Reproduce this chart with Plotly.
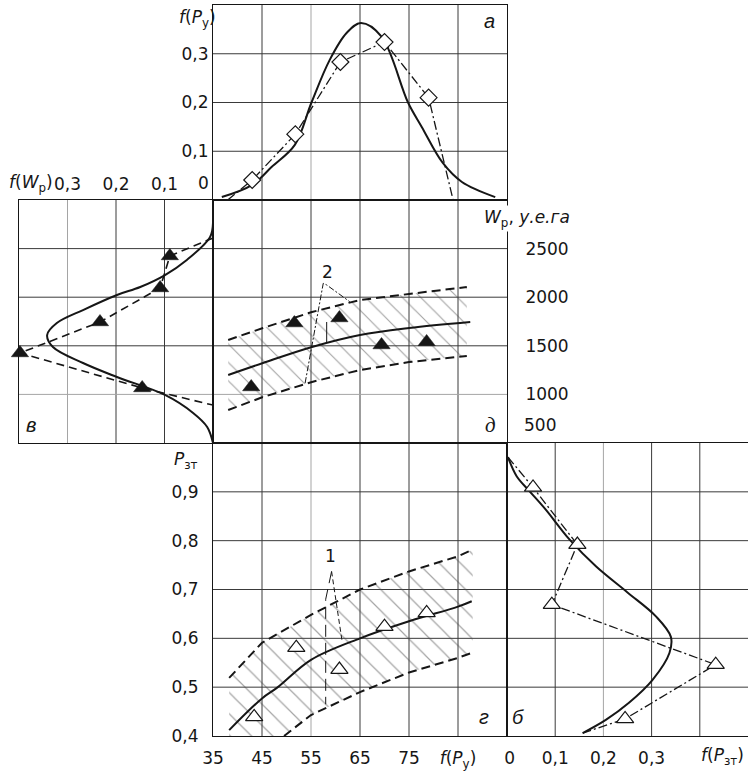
import plotly.graph_objects as go

# ---------------- data ----------------
# panel a: f(P_y) vs P_y
A_CURVE_P = [36.8, 43.0, 47.0, 51.7, 55.1, 58.8, 62.3, 65.2, 69.4, 74.8, 77.6, 81.9, 85.8, 92.6]
A_CURVE_F = [0.006, 0.031, 0.068, 0.113, 0.200, 0.287, 0.343, 0.363, 0.335, 0.200, 0.150, 0.076, 0.037, 0.006]
A_PTS_P = [43.0, 51.8, 61.0, 70.0, 79.0]
A_PTS_F = [0.041, 0.135, 0.283, 0.324, 0.210]
A_LINE_START = (38.0, 0.0)
A_LINE_END = (84.0, 0.0)

# panel в: f(W_p) (horizontal, reversed) vs W_p
B_CURVE_F = [0.0, 0.006, 0.054, 0.099, 0.150, 0.198, 0.268, 0.322, 0.342, 0.330, 0.268, 0.198, 0.099, 0.041, 0.012, 0.0]
B_CURVE_W = [2763, 2620, 2383, 2228, 2105, 2023, 1868, 1734, 1611, 1488, 1323, 1179, 994, 809, 665, 500]
B_PTS_F = [0.089, 0.109, 0.233, 0.398, 0.146]
B_PTS_W = [2424, 2095, 1745, 1426, 1066]
B_LINE_START = (0.0, 2609)
B_LINE_END = (0.0, 890)

# panel д: W_p vs P_y
D_PTS_P = [42.8, 51.6, 60.8, 69.4, 78.6]
D_PTS_W = [1076, 1734, 1786, 1508, 1540]
D_MID_P = [38.1, 45.2, 55.2, 65.0, 75.0, 87.5]
D_MID_W = [1200, 1323, 1488, 1611, 1683, 1745]
D_UP_P = [38.1, 45.2, 55.2, 65.0, 75.0, 86.8]
D_UP_W = [1560, 1683, 1848, 1971, 2033, 2105]
D_LO_P = [38.1, 45.2, 55.2, 65.0, 75.0, 86.8]
D_LO_W = [840, 973, 1128, 1251, 1333, 1395]

# panel г: P_зт vs P_y
G_PTS_P = [43.4, 52.0, 60.8, 70.0, 78.6]
G_PTS_Y = [0.439, 0.581, 0.536, 0.624, 0.652]
G_MID_P = [38.3, 45.0, 48.1, 55.0, 65.0, 75.0, 85.0, 87.8]
G_MID_Y = [0.412, 0.477, 0.499, 0.556, 0.600, 0.635, 0.665, 0.676]
G_UP_P = [38.3, 45.0, 55.0, 65.0, 75.0, 85.0, 88.0]
G_UP_Y = [0.519, 0.591, 0.648, 0.700, 0.737, 0.768, 0.782]
G_LO_P = [49.5, 55.0, 65.0, 75.0, 85.0, 88.0]
G_LO_Y = [0.400, 0.443, 0.490, 0.530, 0.560, 0.571]

# panel б: f(P_зт) vs P_зт
E_CURVE_F = [0.002, 0.020, 0.047, 0.080, 0.130, 0.185, 0.250, 0.309, 0.340, 0.337, 0.302, 0.253, 0.205, 0.157]
E_CURVE_Y = [0.971, 0.932, 0.901, 0.864, 0.802, 0.747, 0.694, 0.645, 0.603, 0.570, 0.515, 0.468, 0.433, 0.406]
E_PTS_F = [0.054, 0.146, 0.093, 0.433, 0.245]
E_PTS_Y = [0.909, 0.792, 0.669, 0.546, 0.435]
E_LINE_START = (0.002, 0.971)
E_LINE_END = (0.157, 0.406)

# ticks / grid positions
PY_TICKS = [35, 45, 55, 65, 75, 85]
PY_LABELS = ["35", "45", "55", "65", "75", "<i>f</i>(<i>P</i><sub>у</sub>)"]
FA_TICKS = [0.1, 0.2, 0.3]
FA_LABELS = ["0,1", "0,2", "0,3"]
FW_TICKS = [0.3, 0.2, 0.1]
FW_LABELS = ["0,3", "0,2", "0,1"]
W_TICKS = [1000, 1500, 2000, 2500]
W_LABELS = ["1000", "1500", "2000", "2500"]
PZ_TICKS = [0.4, 0.5, 0.6, 0.7, 0.8, 0.9]
PZ_LABELS = ["0,4", "0,5", "0,6", "0,7", "0,8", "0,9"]
FZ_TICKS = [0.0, 0.1, 0.2, 0.3, 0.4]
FZ_LABELS = ["\u00a00", "0,1", "0,2", "0,3", ""]

# ---------------- layout helpers ----------------
WF, HF = 748, 771
def dx(a, b):
    return [a / WF, b / WF]
def dy(top, bottom):
    return [1 - bottom / HF, 1 - top / HF]

FONT = "DejaVu Sans"
LETTER = "Liberation Sans"
INK = "#161616"
GRID = "#3a3a3a"
LIGHT = "#a5a5a5"
TFONT = dict(family=FONT, size=17, color=INK)

def axis(domain, rng, ticks, labels=None, show=False, **kw):
    d = dict(domain=domain, range=rng, tickvals=ticks, showgrid=False,
             zeroline=False, showline=True, linecolor=INK, linewidth=1,
             mirror=True, ticks="", showticklabels=show, tickfont=TFONT,
             automargin=False, fixedrange=True)
    if labels is not None:
        d["ticktext"] = labels
    d.update(kw)
    return d

COL_MAIN = dx(213, 507)
COL_LEFT = dx(19, 213)
COL_RIGHT = dx(507, 748)
ROW_TOP = dy(5, 200)
ROW_MID = dy(200, 443)
ROW_BOT = dy(443, 736)

fig = go.Figure()

solid = dict(color=INK, width=2, shape="spline", smoothing=1.0)
dashdot = dict(color=INK, width=1.3, dash="9px,3px,2px,3px")
dashed = dict(color=INK, width=1.6, dash="8px,5px")
band = dict(color=INK, width=2, dash="9px,5px")

# panel a
fig.add_trace(go.Scatter(x=A_CURVE_P, y=A_CURVE_F, mode="lines", line=solid, xaxis="x", yaxis="y"))
fig.add_trace(go.Scatter(x=[A_LINE_START[0]] + A_PTS_P + [A_LINE_END[0]],
                         y=[A_LINE_START[1]] + A_PTS_F + [A_LINE_END[1]],
                         mode="lines", line=dashdot, xaxis="x", yaxis="y"))
fig.add_trace(go.Scatter(x=A_PTS_P, y=A_PTS_F, mode="markers", cliponaxis=False,
                         marker=dict(symbol="diamond", size=13, color="white", line=dict(color=INK, width=1.2)),
                         xaxis="x", yaxis="y"))

# panel в
fig.add_trace(go.Scatter(x=B_CURVE_F, y=B_CURVE_W, mode="lines", line=solid, xaxis="x2", yaxis="y2"))
fig.add_trace(go.Scatter(x=[B_LINE_START[0]] + B_PTS_F + [B_LINE_END[0]],
                         y=[B_LINE_START[1]] + B_PTS_W + [B_LINE_END[1]],
                         mode="lines", line=dashed, xaxis="x2", yaxis="y2"))
fig.add_trace(go.Scatter(x=B_PTS_F, y=B_PTS_W, mode="markers", cliponaxis=False,
                         marker=dict(symbol="triangle-up", size=15, color=INK, line=dict(color=INK, width=0.5)),
                         xaxis="x2", yaxis="y2"))

# panel д
fig.add_trace(go.Scatter(x=D_UP_P + D_LO_P[::-1], y=D_UP_W + D_LO_W[::-1], mode="lines", fill="toself",
                         line=dict(width=0, color="rgba(0,0,0,0)"), fillcolor="rgba(0,0,0,0)",
                         fillpattern=dict(shape="\\", size=13, solidity=0.09, fgcolor="#4a4a4a",
                                          bgcolor="rgba(0,0,0,0)", fillmode="overlay"),
                         xaxis="x3", yaxis="y3"))
fig.add_trace(go.Scatter(x=D_UP_P, y=D_UP_W, mode="lines", line=band, xaxis="x3", yaxis="y3"))
fig.add_trace(go.Scatter(x=D_LO_P, y=D_LO_W, mode="lines", line=band, xaxis="x3", yaxis="y3"))
fig.add_trace(go.Scatter(x=D_MID_P, y=D_MID_W, mode="lines", line=solid, xaxis="x3", yaxis="y3"))
fig.add_trace(go.Scatter(x=D_PTS_P, y=D_PTS_W, mode="markers",
                         marker=dict(symbol="triangle-up", size=15, color=INK, line=dict(color=INK, width=0.5)),
                         xaxis="x3", yaxis="y3"))
# leader lines for "2"
fig.add_trace(go.Scatter(x=[53.8, 57.5, 58.2, 62.9], y=[1117, 2143, 2126, 1954], mode="lines",
                         line=dict(color=INK, width=1, dash="6px,2px,2px,2px"), xaxis="x3", yaxis="y3"))
fig.add_trace(go.Scatter(x=[58.2, 58.2], y=[1530, 1745], mode="lines",
                         line=dict(color=INK, width=1), xaxis="x3", yaxis="y3"))

# panel г
fig.add_trace(go.Scatter(x=G_UP_P + G_LO_P[::-1] + [G_UP_P[0]], y=G_UP_Y + G_LO_Y[::-1] + [G_LO_Y[0]],
                         mode="lines", fill="toself",
                         line=dict(width=0, color="rgba(0,0,0,0)"), fillcolor="rgba(0,0,0,0)",
                         fillpattern=dict(shape="\\", size=15, solidity=0.08, fgcolor="#4a4a4a",
                                          bgcolor="rgba(0,0,0,0)", fillmode="overlay"),
                         xaxis="x4", yaxis="y4"))
fig.add_trace(go.Scatter(x=G_UP_P, y=G_UP_Y, mode="lines", line=band, xaxis="x4", yaxis="y4"))
fig.add_trace(go.Scatter(x=G_LO_P, y=G_LO_Y, mode="lines", line=band, xaxis="x4", yaxis="y4"))
fig.add_trace(go.Scatter(x=G_MID_P, y=G_MID_Y, mode="lines", line=solid, xaxis="x4", yaxis="y4"))
fig.add_trace(go.Scatter(x=G_PTS_P, y=G_PTS_Y, mode="markers",
                         marker=dict(symbol="triangle-up", size=15, color="white", line=dict(color=INK, width=1.2)),
                         xaxis="x4", yaxis="y4"))
# leader lines for "1"
fig.add_trace(go.Scatter(x=[59.2, 61.3], y=[0.737, 0.597], mode="lines",
                         line=dict(color=INK, width=1, dash="5px,3px"), xaxis="x4", yaxis="y4"))
fig.add_trace(go.Scatter(x=[59.2, 58.0, 58.0], y=[0.737, 0.68, 0.465], mode="lines",
                         line=dict(color=INK, width=1, dash="12px,6px"), xaxis="x4", yaxis="y4"))

# panel б
fig.add_trace(go.Scatter(x=E_CURVE_F, y=E_CURVE_Y, mode="lines", line=solid, xaxis="x5", yaxis="y5"))
fig.add_trace(go.Scatter(x=[E_LINE_START[0]] + E_PTS_F + [E_LINE_END[0]],
                         y=[E_LINE_START[1]] + E_PTS_Y + [E_LINE_END[1]],
                         mode="lines", line=dashdot, xaxis="x5", yaxis="y5"))
fig.add_trace(go.Scatter(x=E_PTS_F, y=E_PTS_Y, mode="markers", cliponaxis=False,
                         marker=dict(symbol="triangle-up", size=15, color="white", line=dict(color=INK, width=1.2)),
                         xaxis="x5", yaxis="y5"))

# ---------------- grid lines (drawn below traces, on the axes' scales) ----------------
shapes = []
def vgrid(xa, ya, vals, light=()):
    for v in vals:
        shapes.append(dict(type="line", xref=xa, yref=ya + " domain", x0=v, x1=v, y0=0, y1=1,
                           line=dict(color=LIGHT if v in light else GRID, width=1), layer="below"))
def hgrid(xa, ya, vals, light=()):
    for v in vals:
        shapes.append(dict(type="line", xref=xa + " domain", yref=ya, x0=0, x1=1, y0=v, y1=v,
                           line=dict(color=LIGHT if v in light else GRID, width=1), layer="below"))

vgrid("x", "y", PY_TICKS[1:], light=(55,))
hgrid("x", "y", FA_TICKS)
vgrid("x2", "y2", FW_TICKS, light=(0.3,))
hgrid("x2", "y2", W_TICKS, light=(1000,))
vgrid("x3", "y3", PY_TICKS[1:])
hgrid("x3", "y3", W_TICKS, light=(1000,))
vgrid("x4", "y4", PY_TICKS[1:], light=(55,))
hgrid("x4", "y4", PZ_TICKS[1:])
vgrid("x5", "y5", FZ_TICKS[1:], light=(0.2,))
hgrid("x5", "y5", PZ_TICKS[1:])

def ann(xp, yp, text, size=17, anchor="center", italic=False, family=FONT, **kw):
    t = f"<i>{text}</i>" if italic else text
    d = dict(x=xp / WF, y=1 - yp / HF, xref="paper", yref="paper", text=t, showarrow=False,
             xanchor=anchor, yanchor="middle", font=dict(family=family, size=size, color=INK))
    d.update(kw)
    return d

annotations = [
    ann(197, 18, "<i>f</i>(<i>P</i><sub>у</sub>)"),
    ann(31, 183, "<i>f</i>(<i>W</i><sub>р</sub>)"),
    dict(x=0, y=1 - 183 / HF, xref="x2", yref="paper", text="0", showarrow=False, xshift=-10,
         xanchor="center", yanchor="middle", font=dict(family=FONT, size=17, color=INK)),
    ann(482, 218, "<i>W</i><sub>р</sub>, <i>у.е.га</i>", anchor="left", bgcolor="white"),
    dict(x=1.0, y=500, xref="x3 domain", yref="y3", text="500", showarrow=False, xanchor="left",
         yanchor="middle", xshift=15, yshift=18, font=dict(family=FONT, size=17, color=INK)),
    ann(186, 460, "<i>P</i><sub>зт</sub>"),
    ann(699, 756, "<i>f</i>(<i>P</i><sub>зт</sub>)", anchor="left"),
    ann(490, 21, "а", size=20, italic=True, family=LETTER),
    ann(31, 425, "в", size=20, italic=True, family=LETTER),
    ann(491, 425, "д", size=21, italic=True, family="Liberation Serif"),
    ann(484, 717, "г", size=20, italic=True, family=LETTER),
    ann(518, 717, "б", size=20, italic=True, family=LETTER),
    dict(x=58.3, y=2259, xref="x3", yref="y3", text="2", showarrow=False, yanchor="middle",
         font=dict(family=FONT, size=17, color=INK)),
    dict(x=58.9, y=0.768, xref="x4", yref="y4", text="1", showarrow=False, yanchor="middle",
         font=dict(family=FONT, size=17, color=INK)),
]

fig.update_layout(
    width=WF, height=HF, margin=dict(l=0, r=0, t=0, b=0),
    paper_bgcolor="white", plot_bgcolor="white", showlegend=False,
    font=dict(family=FONT, size=17, color=INK),
    xaxis=axis(COL_MAIN, [35, 95], PY_TICKS, anchor="y"),
    yaxis=axis(ROW_TOP, [0, 0.4], FA_TICKS, FA_LABELS, show=True, anchor="x", ticklabelstandoff=0),
    xaxis2=axis(COL_LEFT, [0.4, 0], FW_TICKS, FW_LABELS, show=True, side="top", anchor="y2", ticklabelstandoff=2),
    yaxis2=axis(ROW_MID, [500, 3000], W_TICKS, anchor="x2"),
    xaxis3=axis(COL_MAIN, [35, 95], PY_TICKS, anchor="y3"),
    yaxis3=axis(ROW_MID, [500, 3000], W_TICKS, W_LABELS, show=True, side="right", anchor="x3", ticklabelstandoff=14),
    xaxis4=axis(COL_MAIN, [35, 95], PY_TICKS, PY_LABELS, show=True, anchor="y4", ticklabelstandoff=7),
    yaxis4=axis(ROW_BOT, [0.4, 1.0], PZ_TICKS, PZ_LABELS, show=True, anchor="x4", ticklabelstandoff=10),
    xaxis5=axis(COL_RIGHT, [0, 0.5], FZ_TICKS, FZ_LABELS, show=True, anchor="y5", ticklabelstandoff=7),
    yaxis5=axis(ROW_BOT, [0.4, 1.0], PZ_TICKS, anchor="x5"),
    shapes=shapes,
    annotations=annotations,
)

fig.write_html("out.html", config={"displayModeBar": False, "staticPlot": True},
               post_script="document.body.style.margin='0px';")
